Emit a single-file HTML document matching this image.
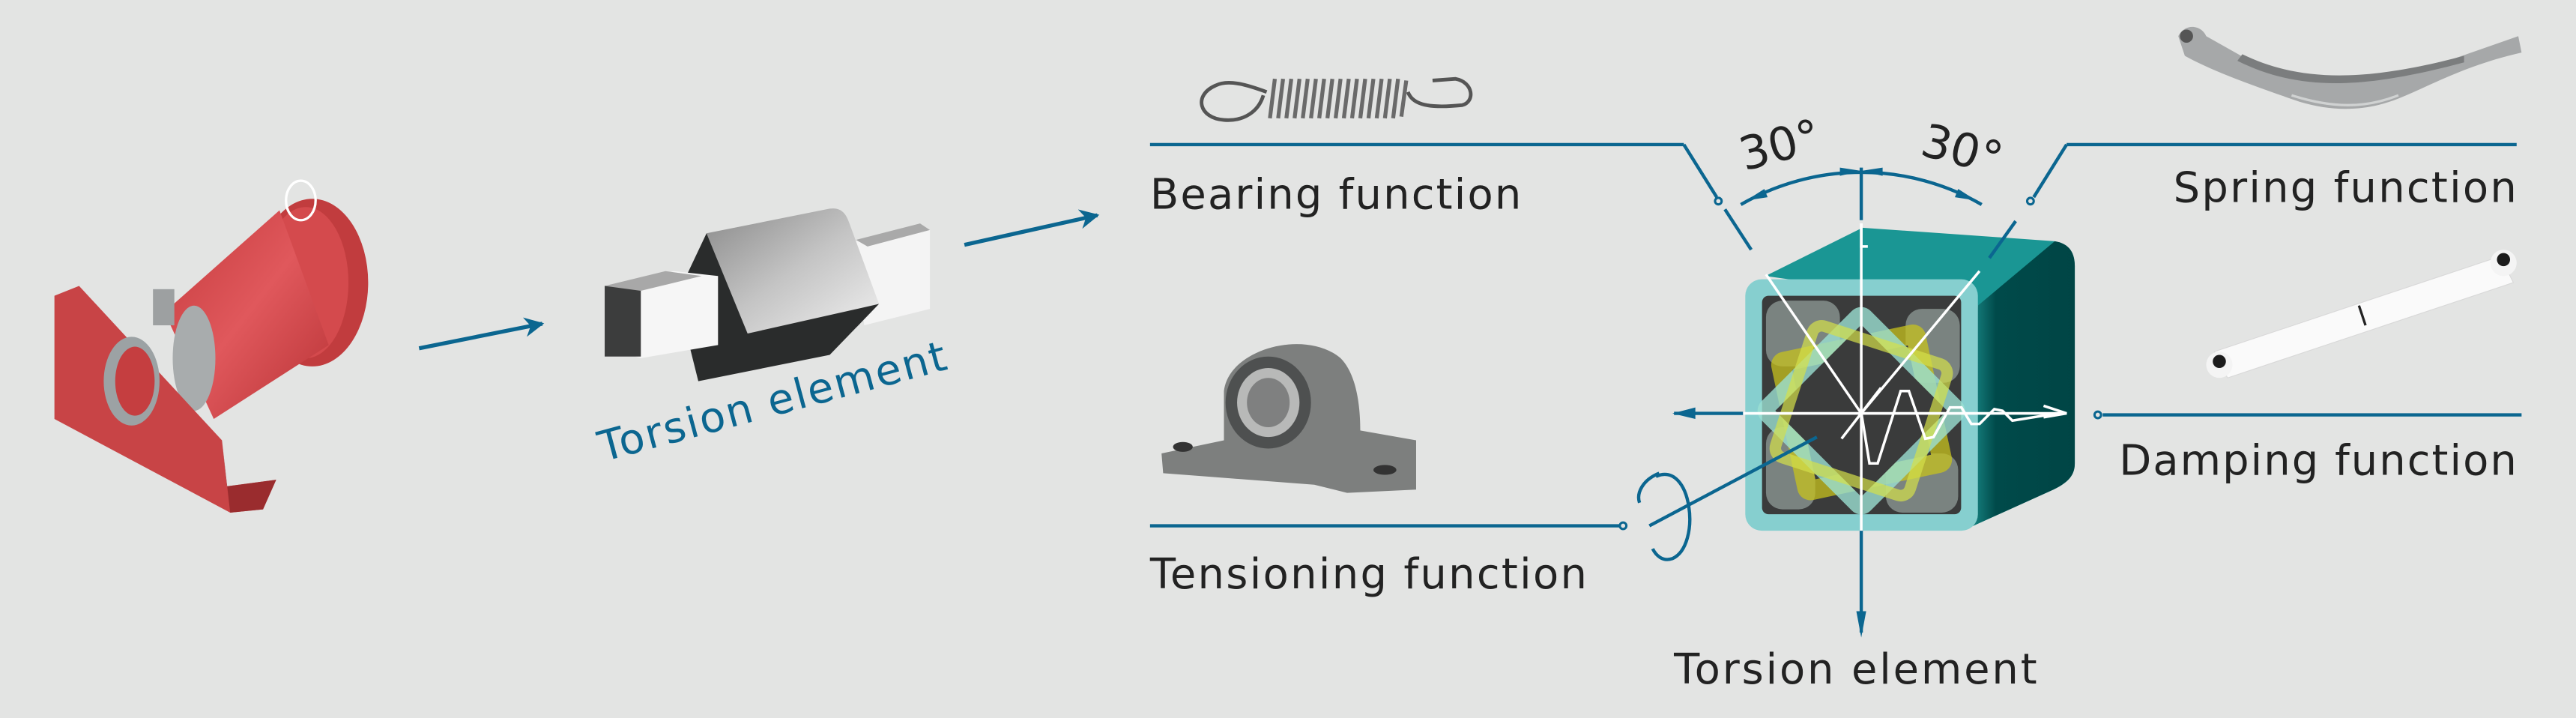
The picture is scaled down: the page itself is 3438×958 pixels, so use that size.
<!DOCTYPE html>
<html><head><meta charset="utf-8"><style>
html,body{margin:0;padding:0;background:#e3e4e3;}
svg{display:block}
text{font-family:"DejaVu Sans","Liberation Sans",sans-serif;}
</style></head><body>
<svg width="3438" height="958" viewBox="0 0 1568 437" xmlns="http://www.w3.org/2000/svg">
<defs>
<marker id="ah" viewBox="0 0 10 10" refX="9" refY="5" markerWidth="5" markerHeight="5" orient="auto"><path d="M0,0 L10,5 L0,10 L3,5z" fill="#0b6690"/></marker>
<linearGradient id="rf" x1="0" y1="0" x2="1" y2="0"><stop offset="0" stop-color="#1a8a88"/><stop offset="0.25" stop-color="#004a4a"/><stop offset="1" stop-color="#004545"/></linearGradient>
<linearGradient id="cyl" x1="0" y1="0" x2="1" y2="1"><stop offset="0" stop-color="#c43a3c"/><stop offset="0.5" stop-color="#e0585c"/><stop offset="1" stop-color="#b83336"/></linearGradient>
<linearGradient id="gr" x1="0" y1="0" x2="1" y2="1"><stop offset="0" stop-color="#8a8a8a"/><stop offset="0.5" stop-color="#c4c4c4"/><stop offset="1" stop-color="#f0f0f0"/></linearGradient>
</defs>
<rect width="1568" height="437" fill="#e3e4e3"/>

<!-- red device -->
<ellipse cx="190" cy="172" rx="34" ry="51" fill="#c13c3e"/>
<ellipse cx="186" cy="172" rx="26" ry="46" fill="#d44a4d"/>
<path d="M100,190 L170,128 L200,210 L130,255 Z" fill="url(#cyl)"/>
<ellipse cx="118" cy="218" rx="13" ry="32" fill="#a8acad"/>
<path d="M33,180 L48,174 L135,268 L138,296 L168,292 L160,310 L140,312 L33,255 Z" fill="#c84446"/>
<path d="M135,268 L138,296 L168,292 L160,310 L140,312 Z" fill="#9a2c2e"/>
<ellipse cx="80" cy="232" rx="17" ry="27" fill="#9ca2a4"/>
<ellipse cx="82" cy="232" rx="12" ry="21" fill="#c53e40"/>
<rect x="93" y="176" width="13" height="22" fill="#9da0a1"/>
<ellipse cx="183" cy="122" rx="9" ry="12" fill="none" stroke="#ffffff" stroke-width="1.5"/>

<!-- arrows -->
<line x1="255" y1="212" x2="330" y2="197" stroke="#0b6690" stroke-width="2.4" marker-end="url(#ah)"/>
<line x1="587" y1="149" x2="668" y2="131" stroke="#0b6690" stroke-width="2.4" marker-end="url(#ah)"/>

<!-- torsion element 3D -->
<path d="M521,146 L560,136 L566,140 L566,188 L526,198 Z" fill="#f4f4f4"/>
<path d="M521,146 L560,136 L566,140 L528,150 Z" fill="#a9a9a9"/>
<path d="M430,142 L505,127 C512,126 515,130 517,136 L535,185 L455,203 Z" fill="url(#gr)"/>
<path d="M430,142 L412,180 L425,232 L505,216 L535,185 L455,203 Z" fill="#2a2c2c"/>
<path d="M370,175 L410,165 L437,168 L437,210 L390,218 L370,212 Z" fill="#f6f6f6"/>
<rect x="368" y="174" width="22" height="43" fill="#3c3d3d"/>
<path d="M368,174 L405,165 L427,168 L390,177 Z" fill="#a8a8a8"/>
<text transform="translate(367,281) rotate(-15)" font-size="25.5" fill="#0b6690" textLength="218">Torsion element</text>

<!-- extension spring -->
<g fill="none" stroke="#555" stroke-width="2.2">
<path d="M771,56 C760,52 748,48 740,52 C726,58 730,72 745,73 C757,74 766,68 769,58"/>
<path d="M857,56 C860,64 870,66 890,64 C898,62 897,50 886,48 L872,49"/>
</g>
<g stroke="#6a6a6a" stroke-width="2.4">
<line x1="773" y1="72" x2="776" y2="48"/><line x1="778" y1="72" x2="781" y2="48"/><line x1="783" y1="72" x2="786" y2="48"/>
<line x1="788" y1="72" x2="791" y2="48"/><line x1="793" y1="72" x2="796" y2="48"/><line x1="798" y1="72" x2="801" y2="48"/>
<line x1="803" y1="72" x2="806" y2="48"/><line x1="808" y1="72" x2="811" y2="48"/><line x1="813" y1="72" x2="816" y2="48"/>
<line x1="818" y1="72" x2="821" y2="48"/><line x1="823" y1="72" x2="826" y2="48"/><line x1="828" y1="72" x2="831" y2="48"/>
<line x1="833" y1="72" x2="836" y2="48"/><line x1="838" y1="72" x2="841" y2="48"/><line x1="843" y1="72" x2="846" y2="48"/>
<line x1="848" y1="72" x2="851" y2="48"/><line x1="853" y1="71" x2="856" y2="49"/>
</g>

<!-- pillow block -->
<path d="M707,276 L745,268 L745,238 C748,212 795,200 816,218 C826,228 828,248 828,262 L862,268 L862,298 L820,300 L800,295 L708,288 Z" fill="#7d7f7e"/>
<ellipse cx="772" cy="245" rx="26" ry="28" fill="#4e5050"/>
<ellipse cx="772" cy="245" rx="19" ry="21" fill="#b8b9b8"/>
<ellipse cx="772" cy="245" rx="13" ry="15" fill="#7f8080"/>
<ellipse cx="720" cy="272" rx="6" ry="3" fill="#333"/>
<ellipse cx="843" cy="286" rx="7" ry="3" fill="#333"/>

<!-- leaf spring -->
<path d="M1326,22 C1330,14 1340,15 1343,22 L1375,40 C1400,52 1440,52 1470,44 L1533,22 L1535,32 C1500,40 1480,52 1460,60 C1440,68 1420,68 1400,62 C1380,55 1350,45 1330,34 Z" fill="#a6a8a9"/>
<path d="M1365,33 C1400,50 1440,50 1500,34 L1500,38 C1440,54 1400,56 1362,37 Z" fill="#7b7d7e"/>
<path d="M1395,58 C1420,66 1440,66 1460,58" stroke="#d0d2d2" stroke-width="1.5" fill="none"/>
<circle cx="1331" cy="22" r="4" fill="#555"/>

<!-- shock absorber -->
<path d="M1348,214 L1522,156 L1530,172 L1356,230 Z" fill="#fafafa" stroke="#d8d8d8" stroke-width="0.5"/>
<circle cx="1351" cy="222" r="8" fill="#f4f4f4"/><circle cx="1351" cy="220" r="4" fill="#1c1c1c"/>
<circle cx="1524" cy="160" r="8" fill="#f4f4f4"/><circle cx="1524" cy="158" r="4" fill="#1c1c1c"/>
<line x1="1436" y1="186" x2="1440" y2="198" stroke="#222" stroke-width="1.5"/>

<!-- cube -->
<path d="M1074.7,168 L1133.7,138.6 L1250.8,146.8 C1258,148 1263,152 1263,162 L1263,282 C1263,290 1258,294 1250,298 L1199,321 L1204,186 Z" fill="#1a9694"/>
<path d="M1204,186 L1250.8,146.8 C1258,148 1263,152 1263,162 L1263,282 C1263,290 1258,294 1250,298 L1199,321 Z" fill="url(#rf)"/>
<rect x="1062.4" y="170" width="141.6" height="153" rx="10" fill="#86cfcf"/>
<rect x="1072.6" y="180" width="121.2" height="133" rx="4" fill="#3a3b3b"/>
<g fill="#7a8380">
<rect x="1075" y="183" width="45" height="40" rx="10"/><rect x="1160" y="188" width="33" height="45" rx="10"/>
<rect x="1075" y="260" width="30" height="50" rx="10"/><rect x="1148" y="276" width="44" height="36" rx="10"/>
</g>
<g transform="rotate(-12 1133 250)"><rect x="1085" y="205" width="96" height="92" rx="8" fill="#c7c21e" fill-opacity="0.75"/><rect x="1097" y="217" width="72" height="68" fill="#3a3b3b"/></g>
<g transform="rotate(45 1133 250)"><rect x="1086" y="203" width="94" height="94" rx="8" fill="#9be0d2" fill-opacity="0.8"/><rect x="1096" y="213" width="74" height="74" fill="#3a3b3b"/></g>
<g transform="rotate(18 1133 250)"><rect x="1090" y="208" width="86" height="84" rx="6" fill="none" stroke="#d4e04a" stroke-opacity="0.7" stroke-width="7"/></g>

<!-- white lines -->
<g stroke="#ffffff" stroke-width="1.6" fill="none">
<line x1="1133" y1="136" x2="1133" y2="323"/>
<line x1="1061" y1="251.6" x2="1258" y2="251.6"/>
<line x1="1075" y1="167" x2="1133" y2="251.6"/>
<line x1="1205" y1="165" x2="1133" y2="251.6"/>
<line x1="1121" y1="267" x2="1145" y2="236"/>
<path d="M1133,251 L1138,282 L1143,282 L1157,238 L1162,238 L1172,267 L1177,266 L1187,248 L1194,248 L1200,258 L1205,258 L1214,249 L1219,250 L1225,256 L1250,252"/>
<path d="M1244,247 L1258,251.6 L1244,254"/>
<path d="M1133,136 L1133,150 L1137,150"/>
</g>

<!-- blue axes & dims -->
<g stroke="#0b6690" stroke-width="2" fill="none">
<line x1="1133" y1="102" x2="1133" y2="134"/>
<line x1="1133" y1="323" x2="1133" y2="385"/>
<line x1="1019" y1="251.6" x2="1061" y2="251.6"/>
<line x1="1050" y1="127.4" x2="1066" y2="152"/>
<line x1="1227" y1="134.6" x2="1211" y2="157"/>
<path d="M1059.7,124.5 A146.6,146.6 0 0 1 1206.3,124.5"/>
<line x1="700" y1="88" x2="1025" y2="88"/><line x1="1025" y1="88" x2="1045" y2="120"/>
<line x1="1532" y1="88" x2="1258" y2="88"/><line x1="1258" y1="88" x2="1238" y2="120"/>
<line x1="1280" y1="252.5" x2="1535" y2="252.5"/>
<line x1="700" y1="320" x2="986" y2="320"/>
<line x1="1004" y1="320" x2="1106" y2="266"/>
<path d="M1008,290 C1030,280 1036,332 1018,340 C1012,342 1008,338 1006,334"/>
<path d="M1010,288 C1000,292 996,300 998,306"/>
</g>
<g fill="#0b6690">
<path d="M1133,388 L1130,372 L1136,372 Z"/>
<path d="M1018,251.6 L1032,248 L1032,255 Z"/>
<path d="M1133,104 L1120,102 L1120,107 Z"/>
<path d="M1133,104 L1146,102 L1146,107 Z"/>
<path d="M1063,122 L1074,115 L1076,120 Z"/>
<path d="M1203,122 L1192,115 L1190,120 Z"/>
</g>
<g fill="#e3e4e3" stroke="#0b6690" stroke-width="1.4">
<circle cx="1046" cy="122.4" r="2"/><circle cx="1236" cy="122.4" r="2"/>
<circle cx="1277" cy="252.5" r="2"/><circle cx="988" cy="320" r="2"/>
</g>

<!-- labels -->
<g fill="#222" font-size="25.5">
<text x="700" y="127" textLength="226">Bearing function</text>
<text x="700" y="358" textLength="266">Tensioning function</text>
<text x="1532" y="123" text-anchor="end" textLength="209">Spring function</text>
<text x="1532" y="289" text-anchor="end" textLength="242">Damping function</text>
<text x="1019" y="416" textLength="221">Torsion element</text>
<text transform="translate(1062,104) rotate(-15)" font-size="28">30°</text>
<text transform="translate(1168,94) rotate(15)" font-size="28">30°</text>
</g>
</svg>
</body></html>
